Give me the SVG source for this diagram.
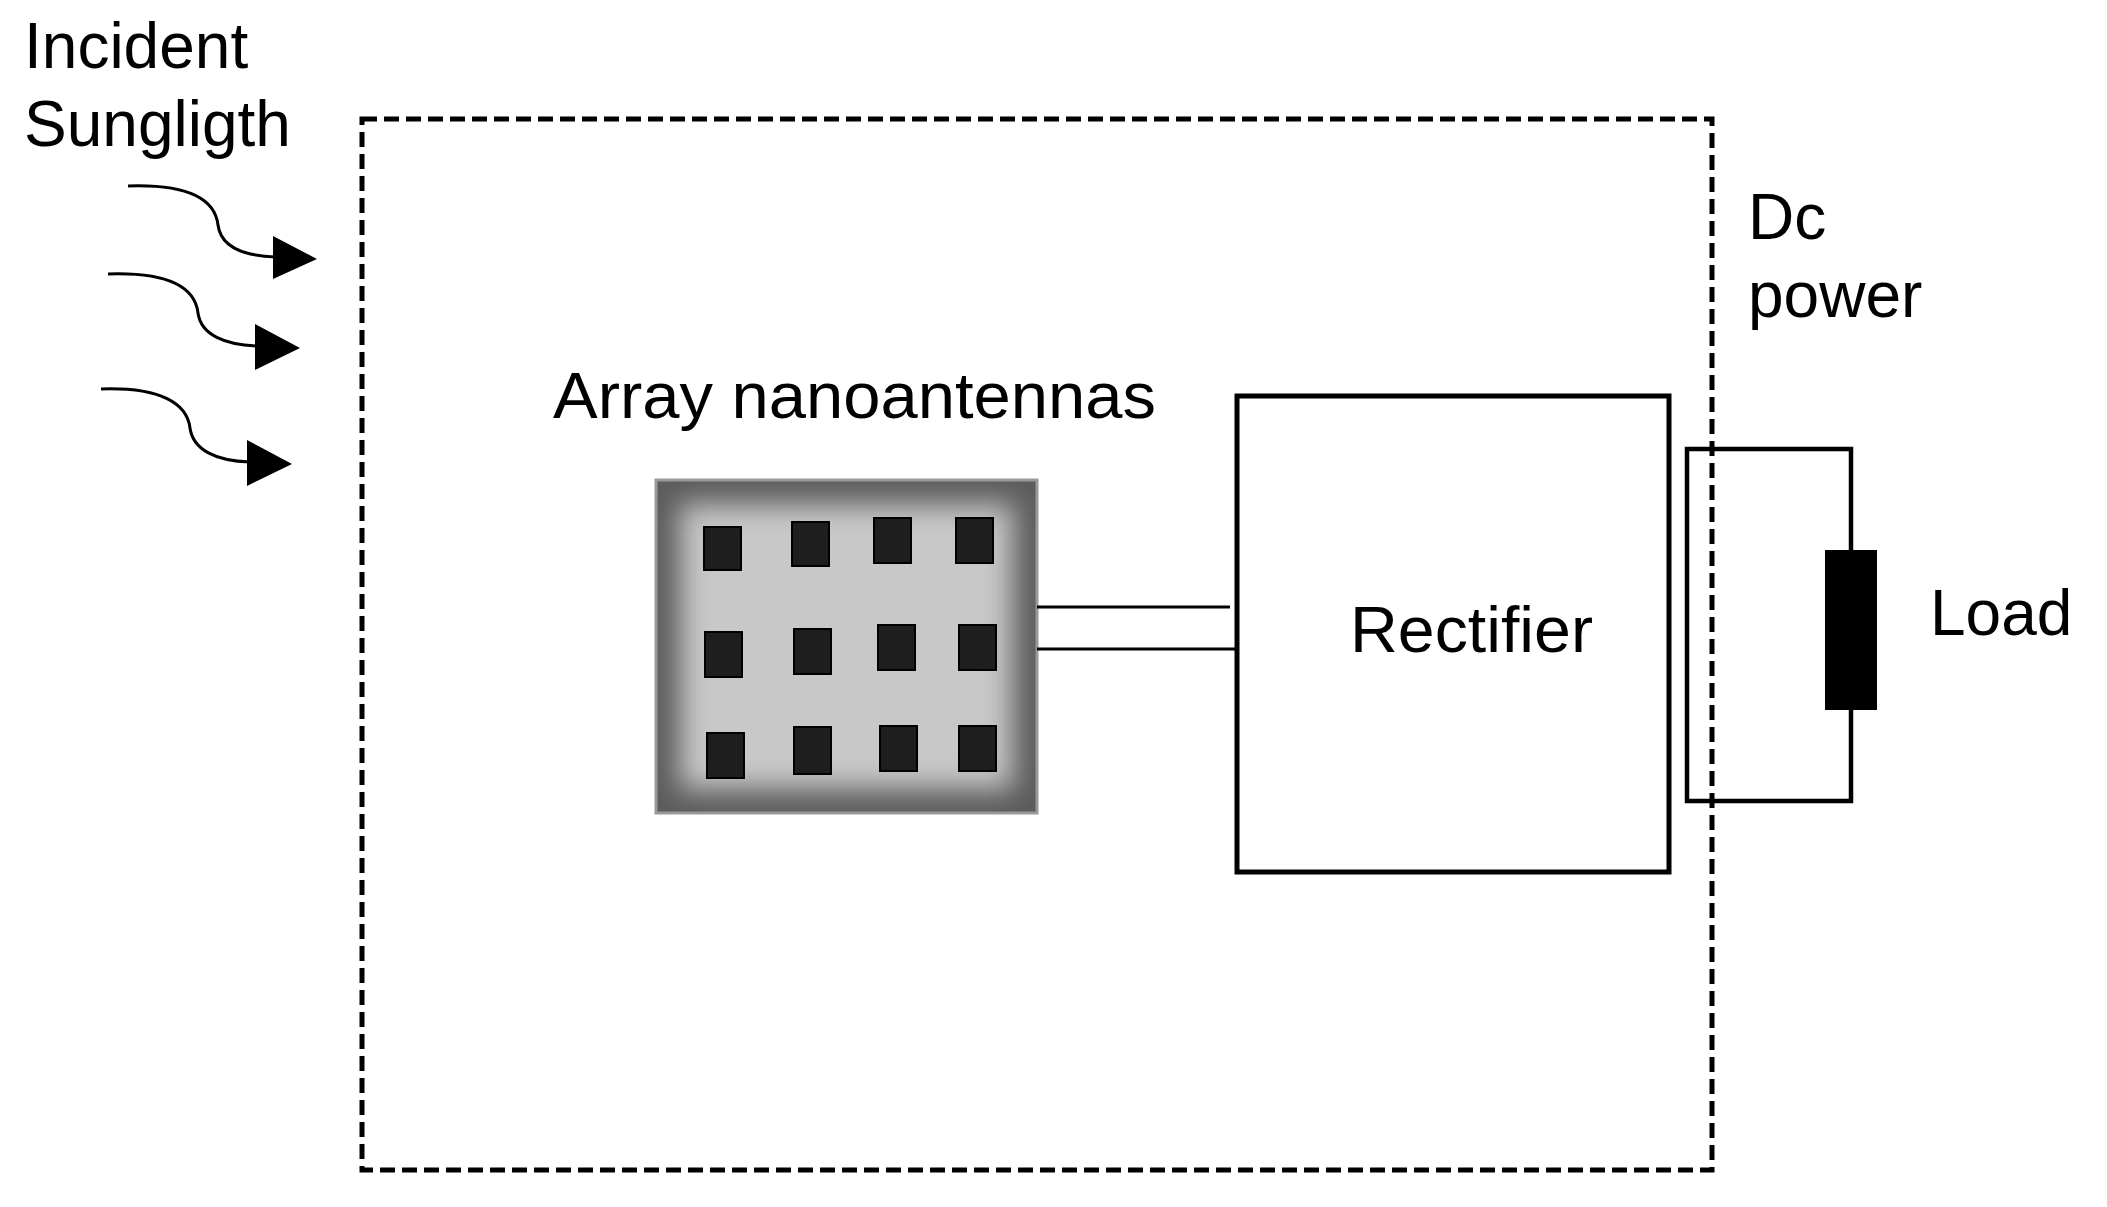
<svg xmlns="http://www.w3.org/2000/svg" width="2107" height="1207" viewBox="0 0 2107 1207">
<style>
text{font-family:"Liberation Sans",Arial,sans-serif;font-size:64px;fill:#000}
.w{fill:none;stroke:#000;stroke-width:3}
.sq{fill:#1e1e1e;stroke:#000;stroke-width:2}
</style>
<defs>
<filter id="b" x="-20%" y="-20%" width="140%" height="140%"><feGaussianBlur stdDeviation="14"/></filter>
<clipPath id="c"><rect x="656" y="480" width="381" height="333"/></clipPath>
</defs>
<rect width="2107" height="1207" fill="#fff"/>
<g id="boundary"><rect x="362" y="119" width="1350" height="1051" fill="none" stroke="#000" stroke-width="5" stroke-dasharray="15,7"/></g>
<g id="sunlight">
<text x="24" y="68">Incident</text>
<text x="24" y="146">Sungligth</text>
</g>
<g id="array">
<text x="553" y="418" textLength="603" lengthAdjust="spacingAndGlyphs">Array nanoantennas</text>
<g clip-path="url(#c)">
<rect x="656" y="480" width="381" height="333" fill="#5c5c5c"/>
<rect x="680" y="504" width="333" height="285" fill="#c8c8c8" filter="url(#b)"/>
</g>
<rect x="656" y="480" width="381" height="333" fill="none" stroke="#999" stroke-width="3"/>
<rect class="sq" x="704" y="527" width="37" height="43"/>
<rect class="sq" x="792" y="522" width="37" height="44"/>
<rect class="sq" x="874" y="518" width="37" height="45"/>
<rect class="sq" x="956" y="518" width="37" height="45"/>
<rect class="sq" x="705" y="632" width="37" height="45"/>
<rect class="sq" x="794" y="629" width="37" height="45"/>
<rect class="sq" x="878" y="625" width="37" height="45"/>
<rect class="sq" x="959" y="625" width="37" height="45"/>
<rect class="sq" x="707" y="733" width="37" height="45"/>
<rect class="sq" x="794" y="727" width="37" height="47"/>
<rect class="sq" x="880" y="726" width="37" height="45"/>
<rect class="sq" x="959" y="726" width="37" height="45"/>
</g>
<g id="rectifier">
<rect x="1237" y="396" width="432" height="476" fill="none" stroke="#000" stroke-width="5"/>
<text x="1350" y="652" textLength="243" lengthAdjust="spacingAndGlyphs">Rectifier</text>
</g>
<g id="load">
<rect x="1825" y="550" width="52" height="160" fill="#000"/>
<text x="1930" y="635">Load</text>
</g>
<g id="dcpower">
<text x="1748" y="239">Dc</text>
<text x="1748" y="317">power</text>
</g>
<g id="connectors">
<path class="w" d="M128,186 C190,184 215,200 218,225 C221,248 245,256 276,257"/>
<polygon points="273,236 317,259 273,279"/>
<path class="w" d="M108,274 C170,272 195,288 198,313 C201,335 225,345 258,346"/>
<polygon points="255,324 300,348 255,370"/>
<path class="w" d="M101,389 C160,387 187,403 190,428 C193,450 216,461 250,462"/>
<polygon points="247,440 292,464 247,486"/>
<line class="w" x1="1037" y1="607" x2="1230" y2="607"/>
<line class="w" x1="1037" y1="649" x2="1237" y2="649"/>
<polyline points="1851,550 1851,449 1687,449 1687,801 1851,801 1851,710" fill="none" stroke="#000" stroke-width="4.5"/>
</g>
</svg>
